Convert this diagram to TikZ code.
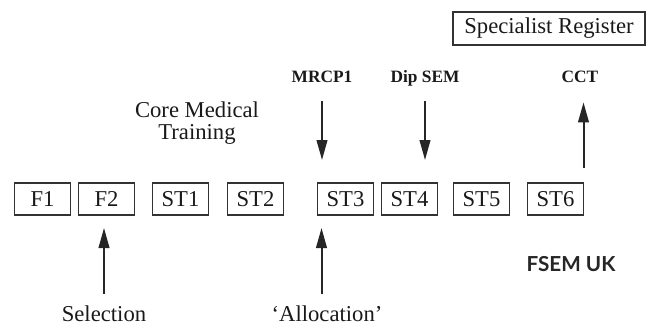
\documentclass[tikz,border=0pt]{standalone}
\usepackage{fontspec}
\setmainfont{Liberation Serif}
\newfontfamily\logofont{Lato}
\usetikzlibrary{arrows.meta,positioning}

\begin{document}
\begin{tikzpicture}[
    x=0.75pt, y=-0.75pt,
    node distance=0pt and 13.5pt,
    box/.style={rectangle, draw=black!80, line width=0.8pt, inner sep=0pt, outer sep=0pt,
                minimum width=42pt, minimum height=24pt, text=black!90,
                font=\fontsize{17}{17}\selectfont},
    note/.style={inner sep=0pt, text=black!90, font=\fontsize{17}{16.5}\selectfont},
    exam/.style={inner sep=0pt, anchor=base, text=black!90,
                 font=\fontsize{13}{13}\selectfont\bfseries},
    arrow/.style={-{Triangle[length=15pt,width=8pt]}, line width=1.5pt, black!85}
]
    \useasboundingbox (0,0) rectangle (646,325);

    \node[box] (f1) at (42.5,199) {F1};
    \node[box, right=6pt of f1] (f2) {F2};
    \node[box, right=13.5pt of f2] (st1) {ST1};
    \node[box, right=14.25pt of st1] (st2) {ST2};
    \node[box, right=25.5pt of st2] (st3) {ST3};
    \node[box, right=6pt of st3] (st4) {ST4};
    \node[box, right=12pt of st4] (st5) {ST5};
    \node[box, right=13.5pt of st5] (st6) {ST6};

    \node[box, minimum width=144pt, minimum height=24.75pt] (register) at (549,28.5) {Specialist Register};

    \node[exam] (mrcp) at (322,82.5) {MRCP1};
    \node[exam] (dipsem) at (425,82.5) {Dip SEM};
    \node[exam] (cct) at (580,82.5) {CCT};

    \node[note, align=center] (cmt) at (197,123) {Core Medical\\Training};

    \node[note, anchor=base] (selection) at (104,321) {Selection};
    \node[note, anchor=base] (allocation) at (327,321) {`Allocation'};

    \node[font=\logofont\bfseries\fontsize{15.5}{15.5}\selectfont, text=black!85] (fsem) at (571,264) {FSEM UK};

    \draw[arrow, shorten <=13.9pt, shorten >=17.25pt] (mrcp.south) -- (mrcp.south |- st3.north);
    \draw[arrow, shorten <=11pt, shorten >=17.25pt] (dipsem.south) -- (dipsem.south |- st4.north);
    \draw[arrow, shorten <=11.25pt, shorten >=14.6pt] (st6.north east) -- (st6.north east |- cct.south);
    \draw[arrow, shorten <=7.9pt, shorten >=9.75pt] (selection.north) -- (selection.north |- f2.south);
    \draw[arrow, shorten <=7.9pt, shorten >=9.75pt] ([xshift=3pt]allocation.north -| st3.west) -- ([xshift=3pt]st3.south west);
\end{tikzpicture}
\end{document}
